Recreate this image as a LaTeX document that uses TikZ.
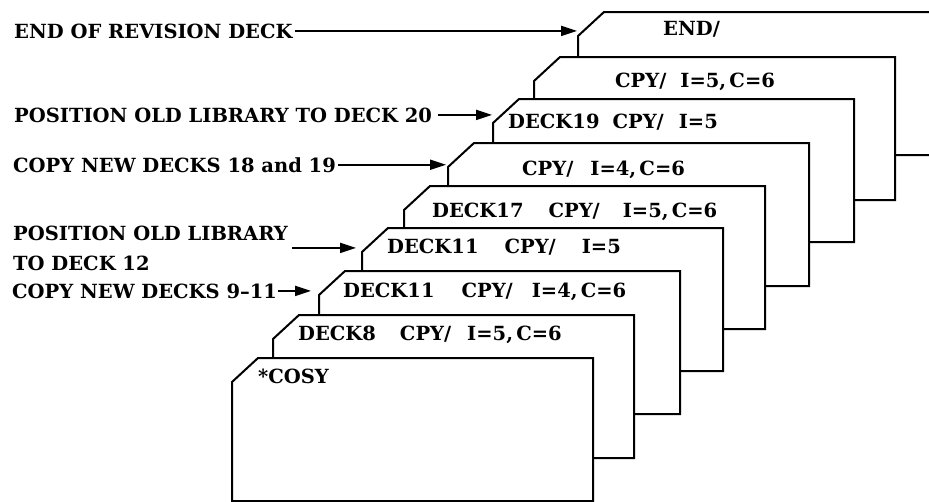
\documentclass[tikz,border=0pt]{standalone}
\usepackage{fontspec}
\setmainfont{DejaVu Serif}
\usetikzlibrary{arrows.meta}
\newcommand{\deckcard}[2]{%
  \filldraw[cardline] (#1,#2+24) -- (#1+26,#2) -- (#1+361,#2) -- (#1+361,#2+143) -- (#1,#2+143) -- cycle;}
\begin{document}
\begin{tikzpicture}[x=1pt,y=-1pt,
  cardline/.style={draw=black, fill=white, line width=2pt, line join=miter},
  lbl/.style={anchor=base west, inner sep=0pt, font=\fontsize{19.5}{30}\selectfont\bfseries},
  arr/.style={line width=2pt, -{Triangle[length=16pt,width=10pt]}}]
\useasboundingbox (0,0) rectangle (929,501);
\clip (0,0) rectangle (929,501);
% cards, back to front
\deckcard{578}{12}
\deckcard{534}{57}
\deckcard{493}{99}
\deckcard{448}{143}
\deckcard{404}{186}
\deckcard{362}{228}
\deckcard{319}{271}
\deckcard{273}{315}
\deckcard{232}{358}
% card texts
\node[lbl] (c9) at (663,35) {END/};
\node[lbl] (c8) at (615,87) {CPY/\hspace{14pt}I=5,\,C=6};
\node[lbl] (c7) at (508,128) {DECK19\hspace{13pt}CPY/\hspace{15pt}I=5};
\node[lbl] (c6) at (522,175) {CPY/\hspace{17pt}I=4,\,C=6};
\node[lbl] (c5) at (432,217) {DECK17\hspace{25pt}CPY/\hspace{23pt}I=5,\,C=6};
\node[lbl] (c4) at (387,253) {DECK11\hspace{26pt}CPY/\hspace{26pt}I=5};
\node[lbl] (c3) at (343,297) {DECK11\hspace{27pt}CPY/\hspace{19pt}I=4,\,C=6};
\node[lbl] (c2) at (298,340) {DECK8\hspace{24pt}CPY/\hspace{16pt}I=5,\,C=6};
\node[lbl] (c1) at (258,383) {*COSY};
% side labels
\node[lbl] (l1) at (14,38) {END OF REVISION DECK};
\node[lbl] (l2) at (14,122) {POSITION OLD LIBRARY TO DECK 20};
\node[lbl] (l3) at (13,172) {COPY NEW DECKS 18 and 19};
\node[lbl, align=left] (l4) at (13,270) {POSITION OLD LIBRARY\\TO DECK 12};
\node[lbl] (l5) at (12,298) {COPY NEW DECKS 9--11};
% arrow targets
\coordinate (t9) at (577,33);
\coordinate (t7) at (492,121);
\coordinate (t6) at (446,167);
\coordinate (t4) at (356,252);
\coordinate (t3) at (311,293);
\draw[arr] ([xshift=2pt]l1.east) -- (l1.east -| t9);
\draw[arr] ([xshift=6pt]l2.east) -- (l2.east -| t7);
\draw[arr] ([xshift=2pt]l3.east) -- (l3.east -| t6);
\draw[arr] ([xshift=4pt]l4.east) -- (l4.east -| t4);
\draw[arr] ([xshift=1pt]l5.east) -- (l5.east -| t3);
\end{tikzpicture}
\end{document}
